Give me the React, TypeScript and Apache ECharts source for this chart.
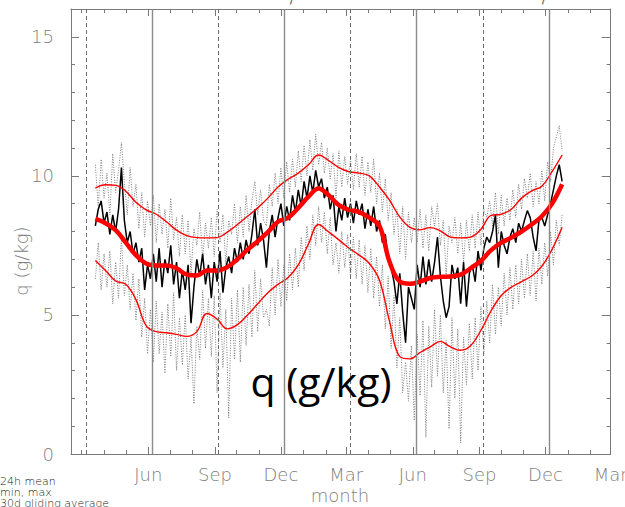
import React, { useEffect, useRef } from "react";
import * as echarts from "echarts";

// ---- data (x = day number counted from 1 Jan of the first year) ----
const START_DAY = 78;
const STEP_DAY = 4;
const AVG_START_DAY = 78;
const AVG_STEP_DAY = 14;

const dailyMean = [
  8.2, 8.8, 9.1, 8.3, 8.7, 7.9, 8.6, 8.0, 8.8, 10.3,
  8.4, 7.6, 8.0, 7.2, 7.6, 6.9, 7.4, 5.9, 6.8, 6.3,
  7.2, 6.2, 7.4, 6.0, 7.0, 6.5, 7.5, 6.1, 6.9, 5.6,
  6.6, 5.9, 6.8, 4.7, 6.0, 7.0, 6.4, 7.2, 6.1, 6.8,
  5.6, 6.9, 6.2, 7.3, 5.8, 6.7, 7.1, 6.5, 7.4, 6.9,
  7.6, 7.0, 7.7, 7.2, 7.9, 8.8, 7.5, 8.3, 7.7, 6.7,
  8.0, 8.6, 7.8, 8.5, 9.0, 8.2, 8.9, 8.4, 9.3, 8.7,
  9.5, 8.9, 9.8, 9.2, 10.0, 9.4, 10.2, 9.6, 9.9, 9.2,
  9.6, 8.8, 9.3, 8.0, 8.9, 8.4, 9.2, 8.5, 9.0, 8.3,
  9.1, 8.6, 9.0, 8.1, 8.8, 8.2, 8.9, 8.0, 8.4, 7.6,
  7.9, 7.0, 6.7, 6.2, 5.4, 6.5, 5.1, 4.0, 6.0, 5.6,
  5.2, 6.8, 6.0, 7.1, 6.1, 7.0, 6.2, 6.9, 7.8, 6.4,
  5.5, 4.9, 5.3, 6.8, 6.3, 6.7, 5.4, 6.9, 5.3, 6.5,
  6.8, 6.2, 7.3, 6.6, 7.4, 7.8, 7.6, 8.0, 8.6, 6.7,
  8.0, 7.5, 7.2, 7.8, 8.1, 7.6, 8.3, 8.0, 8.4, 8.75,
  8.5, 7.8, 7.3, 8.4, 8.5, 8.2, 8.6, 9.0, 9.5, 10.0,
  10.4, 9.8,
];

const dailyMax = [
  10.4, 8.9, 10.6, 9.2, 10.1, 8.6, 10.8, 9.4, 10.2, 11.2,
  9.8, 8.6, 10.3, 8.9, 9.7, 8.1, 9.4, 7.8, 9.1, 8.2,
  9.3, 7.6, 9.0, 7.9, 8.8, 7.4, 9.2, 7.7, 8.5, 7.1,
  8.6, 7.2, 8.4, 6.5, 8.1, 7.5, 8.7, 7.0, 8.3, 7.4,
  8.5, 7.1, 8.8, 7.6, 8.6, 6.8, 8.4, 7.9, 9.0, 7.6,
  8.9, 7.8, 9.3, 8.0, 9.1, 9.8, 8.6, 9.5, 8.4, 8.2,
  9.7, 8.9, 10.1, 9.0, 10.3, 9.2, 10.5, 9.4, 10.6, 9.6,
  10.9, 9.8, 11.1, 10.0, 11.3, 10.2, 11.5, 10.4, 11.2, 10.1,
  11.0, 9.9, 10.8, 9.2, 10.9, 9.6, 10.7, 9.7, 10.6, 9.5,
  10.8, 9.6, 10.7, 9.3, 10.5, 9.4, 10.6, 9.0, 10.1, 8.7,
  9.9, 8.4, 9.4, 7.9, 8.8, 7.2, 8.9, 7.0, 8.7, 7.6,
  8.5, 7.6, 8.8, 7.4, 8.6, 7.3, 8.9, 8.2, 9.0, 7.5,
  8.4, 6.4, 8.2, 7.6, 8.5, 7.2, 8.3, 6.9, 8.4, 7.3,
  8.6, 7.4, 8.7, 7.5, 8.8, 8.5, 9.1, 8.2, 9.4, 7.9,
  9.3, 8.2, 9.2, 8.4, 9.5, 8.5, 9.7, 8.8, 9.9, 9.2,
  10.1, 8.9, 9.8, 9.0, 10.2, 9.1, 10.5, 9.8, 11.0, 11.4,
  11.8, 10.9,
];

const dailyMin = [
  6.3, 7.6, 5.9, 7.2, 6.0, 7.3, 5.4, 6.9, 5.6, 7.8,
  5.7, 6.8, 5.2, 6.5, 4.8, 6.3, 4.2, 5.6, 3.6, 5.2,
  3.3, 5.5, 3.6, 5.1, 2.9, 5.4, 3.5, 5.8, 3.0, 4.9,
  3.2, 5.0, 2.7, 4.2, 1.8, 4.6, 3.4, 5.9, 3.8, 5.6,
  3.5, 5.7, 2.2, 5.8, 3.1, 5.2, 1.3, 5.6, 3.4, 5.9,
  3.3, 6.0, 3.9, 6.1, 4.2, 6.6, 4.4, 6.3, 4.9, 5.2,
  4.6, 6.7, 5.0, 7.0, 5.3, 6.8, 5.5, 7.2, 5.9, 7.4,
  6.0, 7.8, 6.6, 8.2, 7.0, 8.6, 7.5, 8.9, 7.6, 8.7,
  7.2, 8.5, 6.8, 7.6, 6.5, 8.0, 6.7, 7.9, 6.4, 7.8,
  6.3, 7.7, 6.1, 7.5, 5.8, 7.4, 5.6, 7.1, 5.3, 6.8,
  4.5, 6.4, 3.8, 5.7, 3.1, 4.9, 2.2, 3.3, 1.9, 3.9,
  1.2, 4.3, 2.1, 4.8, 0.6, 4.6, 2.4, 5.2, 2.8, 5.0,
  2.2, 4.1, 0.9, 4.9, 2.0, 4.5, 0.4, 4.2, 2.5, 4.7,
  2.7, 4.9, 3.0, 5.3, 3.6, 5.5, 4.0, 6.1, 4.3, 6.0,
  4.6, 6.5, 5.0, 6.7, 5.2, 6.8, 5.4, 7.0, 5.6, 7.2,
  5.7, 7.3, 5.5, 7.4, 6.1, 7.6, 6.4, 8.0, 6.8, 8.4,
  7.5, 8.6,
];

const avgMean = [
  8.45, 8.3, 8.05, 7.6, 7.15, 6.85, 6.78, 6.78, 6.68, 6.45,
  6.42, 6.6, 6.6, 6.72, 7.0, 7.35, 7.65, 7.98, 8.35, 8.5,
  8.85, 9.25, 9.55, 9.3, 8.95, 8.78, 8.7, 8.5, 8.2, 6.9,
  6.2, 6.12, 6.2, 6.33, 6.37, 6.38, 6.45, 6.68, 6.95, 7.33,
  7.6, 7.78, 8.0, 8.25, 8.55, 9.0, 9.7,
];

const avgMax = [
  9.56, 9.68, 9.66, 9.45, 9.05, 8.78, 8.62, 8.35, 8.05, 7.85,
  7.78, 7.77, 7.78, 7.98, 8.25, 8.55, 8.85, 9.2, 9.6, 9.88,
  10.1, 10.4, 10.75, 10.55, 10.3, 10.15, 10.1, 10.0, 9.6, 9.12,
  8.52, 8.15, 8.06, 8.14, 8.02, 7.8, 7.77, 7.8, 8.08, 8.58,
  8.62, 8.8, 9.2, 9.46, 9.63, 10.15, 10.75,
];

const avgMin = [
  6.96, 6.6, 6.22, 6.1, 5.55, 4.62, 4.4, 4.36, 4.3, 4.23,
  4.4, 5.05, 4.85, 4.5, 4.65, 5.0, 5.4, 5.8, 6.1, 6.35,
  6.8, 7.55, 8.25, 7.98, 7.7, 7.4, 7.15, 6.85, 6.25, 4.75,
  3.5, 3.42, 3.65, 3.85, 4.05, 3.85, 3.73, 3.9, 4.45, 5.15,
  5.7, 6.0, 6.2, 6.4, 6.75, 7.35, 8.15,
];

// axis ticks and labels
const monthTickDays = [
  59, 90, 120, 151, 181, 212, 243, 273, 304, 334, 365, 396, 424,
  455, 485, 516, 546, 577, 608, 638, 669, 699, 730, 761, 789,
];
const labelTickDays = [151, 243, 334, 424, 516, 608, 699, 789];
const labelTickNames = ["Jun", "Sep", "Dec", "Mar", "Jun", "Sep", "Dec", "Mar"];
const yMajorTicks = [0, 5, 10, 15];
const yMinorTicks = [1, 2, 3, 4, 6, 7, 8, 9, 11, 12, 13, 14];
const seasonSolidDays = [156, 339, 521, 704];
const seasonDashedDays = [65, 248, 429, 613];
const X_MIN = 44.4;
const X_MAX = 789;
const Y_MIN = 0;
const Y_MAX = 16;

const legendLines = ["24h mean", "min, max", "30d gliding average"];

const AXIS_GRAY = "#7a7a7a";
const LABEL_GRAY = "#808080";
const THIN_FONT = "DejaVu Sans";

function toPairs(values: number[], start: number, step: number) {
  return values.map((v, i) => [start + i * step, v]);
}

export default function App() {
  const ref = useRef<HTMLDivElement>(null);

  useEffect(() => {
    if (!ref.current) return;
    const chart = echarts.init(ref.current, undefined, { renderer: "svg" });

    const gridRect = { left: 71, top: 9, width: 539.7, height: 445 };

    const xBase = (gridIndex: number, position: string) => ({
      type: "value",
      gridIndex,
      position,
      min: X_MIN,
      max: X_MAX,
      splitLine: { show: false },
    });
    const yBase = (gridIndex: number, position: string) => ({
      type: "value",
      gridIndex,
      position,
      min: Y_MIN,
      max: Y_MAX,
      splitLine: { show: false },
    });

    const labelStyle = {
      color: LABEL_GRAY,
      fontFamily: THIN_FONT,
      fontWeight: 200,
    };

    const vLine = (d: number, dashed: boolean) => ({
      xAxis: d,
      lineStyle: dashed
        ? { color: "#6a6a6a", width: 1, type: [4, 3] }
        : { color: "#8a8a8a", width: 1.4, type: "solid" },
    });

    const tickStyle = { color: AXIS_GRAY, width: 1 };

    const option: any = {
      animation: false,
      backgroundColor: "#ffffff",
      grid: [
        { ...gridRect, containLabel: false, outerBoundsMode: "none" },
        { ...gridRect, containLabel: false, outerBoundsMode: "none" },
      ],
      xAxis: [
        {
          ...xBase(0, "bottom"),
          axisLine: { show: true, onZero: false, lineStyle: tickStyle },
          axisTick: { show: true, inside: true, length: 7, customValues: labelTickDays, lineStyle: tickStyle },
          axisLabel: {
            show: true,
            customValues: labelTickDays,
            margin: 11,
            fontSize: 18,
            ...labelStyle,
            formatter: (v: number) => {
              const k = labelTickDays.indexOf(Math.round(v));
              return k >= 0 ? labelTickNames[k] : "";
            },
          },
        },
        {
          ...xBase(0, "top"),
          axisLine: { show: true, onZero: false, lineStyle: tickStyle },
          axisTick: { show: true, inside: true, length: 7, customValues: labelTickDays, lineStyle: tickStyle },
          axisLabel: { show: false },
        },
        {
          ...xBase(1, "bottom"),
          axisLine: { show: false, onZero: false },
          axisTick: { show: true, inside: true, length: 4, customValues: monthTickDays, lineStyle: tickStyle },
          axisLabel: { show: false },
        },
        {
          ...xBase(1, "top"),
          axisLine: { show: false, onZero: false },
          axisTick: { show: true, inside: true, length: 4, customValues: monthTickDays, lineStyle: tickStyle },
          axisLabel: { show: false },
        },
      ],
      yAxis: [
        {
          ...yBase(0, "left"),
          axisLine: { show: true, onZero: false, lineStyle: tickStyle },
          axisTick: { show: true, inside: true, length: 8, customValues: yMajorTicks, lineStyle: tickStyle },
          axisLabel: {
            show: true,
            customValues: yMajorTicks,
            margin: 17,
            fontSize: 18,
            ...labelStyle,
          },
        },
        {
          ...yBase(0, "right"),
          axisLine: { show: true, onZero: false, lineStyle: tickStyle },
          axisTick: { show: true, inside: true, length: 9, customValues: yMajorTicks, lineStyle: tickStyle },
          axisLabel: { show: false },
        },
        {
          ...yBase(1, "left"),
          axisLine: { show: false, onZero: false },
          axisTick: { show: true, inside: true, length: 4, customValues: yMinorTicks, lineStyle: tickStyle },
          axisLabel: { show: false },
        },
        {
          ...yBase(1, "right"),
          axisLine: { show: false, onZero: false },
          axisTick: { show: true, inside: true, length: 4, customValues: yMinorTicks, lineStyle: tickStyle },
          axisLabel: { show: false },
        },
      ],
      series: [
        {
          name: "max",
          type: "line",
          xAxisIndex: 0,
          yAxisIndex: 0,
          data: toPairs(dailyMax, START_DAY, STEP_DAY),
          showSymbol: false,
          silent: true,
          z: 1,
          lineStyle: { color: "#7c7c7c", width: 1, type: [1, 1.5] },
          markLine: {
            silent: true,
            symbol: ["none", "none"],
            label: { show: false },
            data: [
              ...seasonSolidDays.map((d) => vLine(d, false)),
              ...seasonDashedDays.map((d) => vLine(d, true)),
            ],
          },
        },
        {
          name: "min",
          type: "line",
          xAxisIndex: 0,
          yAxisIndex: 0,
          data: toPairs(dailyMin, START_DAY, STEP_DAY),
          showSymbol: false,
          silent: true,
          z: 1,
          lineStyle: { color: "#7c7c7c", width: 1, type: [1, 1.5] },
        },
        {
          name: "24h mean",
          type: "line",
          xAxisIndex: 0,
          yAxisIndex: 0,
          data: toPairs(dailyMean, START_DAY, STEP_DAY),
          showSymbol: false,
          silent: true,
          z: 2,
          lineStyle: { color: "#000000", width: 1.5 },
        },
        {
          name: "avg max",
          type: "line",
          xAxisIndex: 0,
          yAxisIndex: 0,
          data: toPairs(avgMax, AVG_START_DAY, AVG_STEP_DAY),
          showSymbol: false,
          smooth: 0.4,
          silent: true,
          z: 3,
          lineStyle: { color: "#ff0000", width: 1.4 },
        },
        {
          name: "avg min",
          type: "line",
          xAxisIndex: 0,
          yAxisIndex: 0,
          data: toPairs(avgMin, AVG_START_DAY, AVG_STEP_DAY),
          showSymbol: false,
          smooth: 0.4,
          silent: true,
          z: 3,
          lineStyle: { color: "#ff0000", width: 1.4 },
        },
        {
          name: "avg mean",
          type: "line",
          xAxisIndex: 0,
          yAxisIndex: 0,
          data: toPairs(avgMean, AVG_START_DAY, AVG_STEP_DAY),
          showSymbol: false,
          smooth: 0.4,
          silent: true,
          z: 4,
          lineStyle: { color: "#ff0000", width: 4.5 },
        },
      ],
      graphic: [
        {
          type: "text",
          x: 21,
          y: 261,
          rotation: Math.PI / 2,
          style: {
            text: "q (g/kg)",
            fill: LABEL_GRAY,
            fontSize: 18,
            fontFamily: THIN_FONT,
            fontWeight: 200,
            align: "center",
            verticalAlign: "middle",
          },
        },
        {
          type: "text",
          x: 340,
          y: 495,
          style: {
            text: "month",
            fill: LABEL_GRAY,
            fontSize: 18,
            fontFamily: THIN_FONT,
            fontWeight: 200,
            align: "center",
            verticalAlign: "middle",
          },
        },
        {
          type: "text",
          x: 0,
          y: 475.5,
          style: {
            text: legendLines.join("\n"),
            fill: "#222222",
            fontSize: 11,
            lineHeight: 11,
            fontFamily: THIN_FONT,
            fontWeight: 200,
            align: "left",
            verticalAlign: "top",
          },
        },
        {
          type: "text",
          x: 321,
          y: 381,
          z: 100,
          style: {
            text: "q (g/kg)",
            fill: "#000000",
            fontSize: 41,
            fontFamily: "Open Sans",
            align: "center",
            verticalAlign: "middle",
          },
        },
        {
          type: "text",
          x: 292,
          y: -9,
          style: { text: "/", fill: "#666", fontSize: 14, fontFamily: THIN_FONT, align: "center", verticalAlign: "top" },
        },
        {
          type: "text",
          x: 544,
          y: -9,
          style: { text: "/", fill: "#666", fontSize: 14, fontFamily: THIN_FONT, align: "center", verticalAlign: "top" },
        },
      ],
    };

    chart.setOption(option);
    return () => chart.dispose();
  }, []);

  return (
    <div
      ref={ref}
      style={{ position: "fixed", left: 0, top: 0, width: 625, height: 507, background: "#fff" }}
    />
  );
}
